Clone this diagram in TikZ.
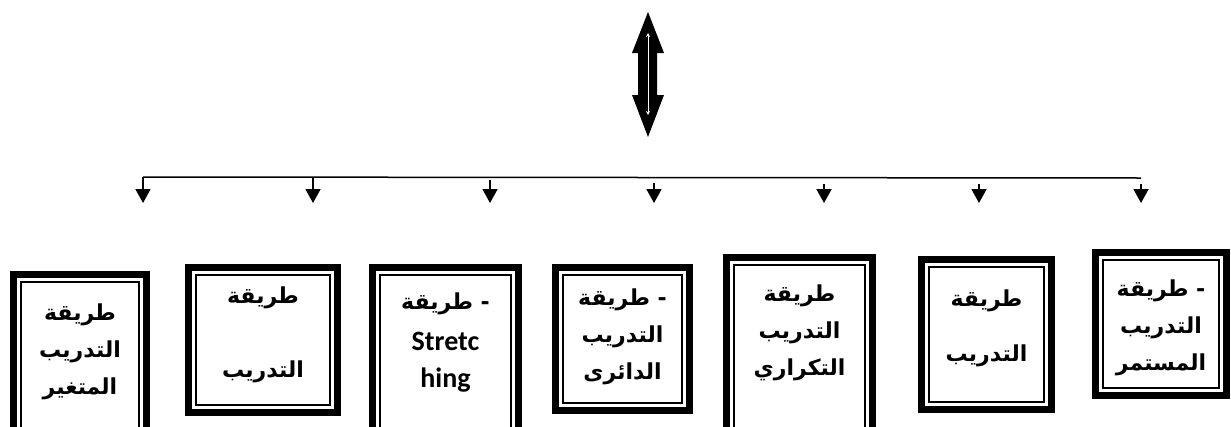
\documentclass[tikz,border=0pt]{standalone}
\usepackage{fontspec}
\usetikzlibrary{arrows.meta}
\TeXXeTstate=1
\newfontfamily\arabicfont[Script=Arabic]{DejaVu Sans}
\newfontfamily\latinfont{Carlito}
\begin{document}
\begin{tikzpicture}[x=1pt, y=-1pt,
    methodbox/.style={draw, line width=7pt, inner sep=0pt, outer sep=0pt},
    innerframe/.style={line width=1.8pt},
    methodtext/.style={align=center, font=\arabicfont\bfseries\fontsize{22}{37}\selectfont},
    branch/.style={-{Triangle[width=15pt, length=14pt]}, line width=1.8pt}]
    \useasboundingbox (0, 0) rectangle (1231, 426);
    \clip (0, 0) rectangle (1231, 426);

    % double arrow at the top
    \fill (648, 12) -- (664, 53) -- (657, 53) -- (657, 95) -- (664, 95) -- (648, 137)
        -- (632, 95) -- (638, 95) -- (638, 53) -- (632, 53) -- cycle;
    \draw[white, line width=0.8pt, {Stealth[length=4pt, width=4pt]}-{Stealth[length=4pt, width=4pt]}]
        (648, 33) -- (648, 115);

    % branching line
    \coordinate (bleft) at (143, 177);
    \coordinate (bright) at (1141, 178);
    \draw[line width=1.5pt] (bleft) -- (bright);
    \coordinate (a1) at (143, 177);  \coordinate (h1) at (143, 203);
    \coordinate (a2) at (313, 177);  \coordinate (h2) at (313, 203);
    \coordinate (a3) at (490, 180);  \coordinate (h3) at (490, 203);
    \coordinate (a4) at (654, 183);  \coordinate (h4) at (654, 203);
    \coordinate (a5) at (824, 184);  \coordinate (h5) at (824, 203);
    \coordinate (a6) at (979, 184);  \coordinate (h6) at (979, 203);
    \coordinate (a7) at (1141, 184); \coordinate (h7) at (1141, 203);
    \draw[branch] (a1) -- (h1);
    \draw[branch] (a2) -- (h2);
    \draw[branch] (a3) -- (h3);
    \draw[branch] (a4) -- (h4);
    \draw[branch] (a5) -- (h5);
    \draw[branch] (a6) -- (h6);
    \draw[branch] (a7) -- (h7);

    % boxes
    \node[methodbox, minimum width=133pt, minimum height=162pt] (b1) at (80, 355.5) {};
    \node[methodbox, minimum width=149pt, minimum height=145pt] (b2) at (263, 340) {};
    \node[methodbox, minimum width=146pt, minimum height=169pt] (b3) at (445.5, 352) {};
    \node[methodbox, minimum width=134pt, minimum height=143pt] (b4) at (622.5, 339) {};
    \node[methodbox, minimum width=146pt, minimum height=179pt] (b5) at (799.5, 347) {};
    \node[methodbox, minimum width=130pt, minimum height=150pt] (b6) at (986.5, 334.5) {};
    \node[methodbox, minimum width=131pt, minimum height=143pt] (b7) at (1161, 324) {};
    \draw[innerframe] ([shift={(7.5pt,-7.5pt)}]b1.north west) rectangle ([shift={(-7.5pt,7.5pt)}]b1.south east);
    \draw[innerframe] ([shift={(7.5pt,-7.5pt)}]b2.north west) rectangle ([shift={(-7.5pt,7.5pt)}]b2.south east);
    \draw[innerframe] ([shift={(7.5pt,-7.5pt)}]b3.north west) rectangle ([shift={(-7.5pt,7.5pt)}]b3.south east);
    \draw[innerframe] ([shift={(7.5pt,-7.5pt)}]b4.north west) rectangle ([shift={(-7.5pt,7.5pt)}]b4.south east);
    \draw[innerframe] ([shift={(7.5pt,-7.5pt)}]b5.north west) rectangle ([shift={(-7.5pt,7.5pt)}]b5.south east);
    \draw[innerframe] ([shift={(7.5pt,-7.5pt)}]b6.north west) rectangle ([shift={(-7.5pt,7.5pt)}]b6.south east);
    \draw[innerframe] ([shift={(7.5pt,-7.5pt)}]b7.north west) rectangle ([shift={(-7.5pt,7.5pt)}]b7.south east);

    % texts
    \node[methodtext] (t1) at (80, 352) {\beginR طريقة\endR\\\beginR التدريب\endR\\\beginR المتغير\endR};
    \node[methodtext] (t2) at (263, 335) {\beginR طريقة\endR\\[37pt]\beginR التدريب\endR};
    \node[methodtext] (t3) at (445.5, 343) {\beginR - طريقة\endR\\[4pt]{\latinfont\bfseries\fontsize{28}{40}\selectfont Stretc}\\{\latinfont\bfseries\fontsize{28}{40}\selectfont hing}};
    \node[methodtext] (t4) at (622.5, 337) {\beginR - طريقة\endR\\\beginR التدريب\endR\\\beginR الدائرى\endR};
    \node[methodtext] (t5) at (799.5, 333) {\beginR طريقة\endR\\\beginR التدريب\endR\\\beginR التكراري\endR};
    \node[methodtext] (t6) at (986.5, 328) {\beginR طريقة\endR\\[18pt]\beginR التدريب\endR};
    \node[methodtext] (t7) at (1161, 328) {\beginR - طريقة\endR\\\beginR التدريب\endR\\\beginR المستمر\endR};
\end{tikzpicture}
\end{document}
